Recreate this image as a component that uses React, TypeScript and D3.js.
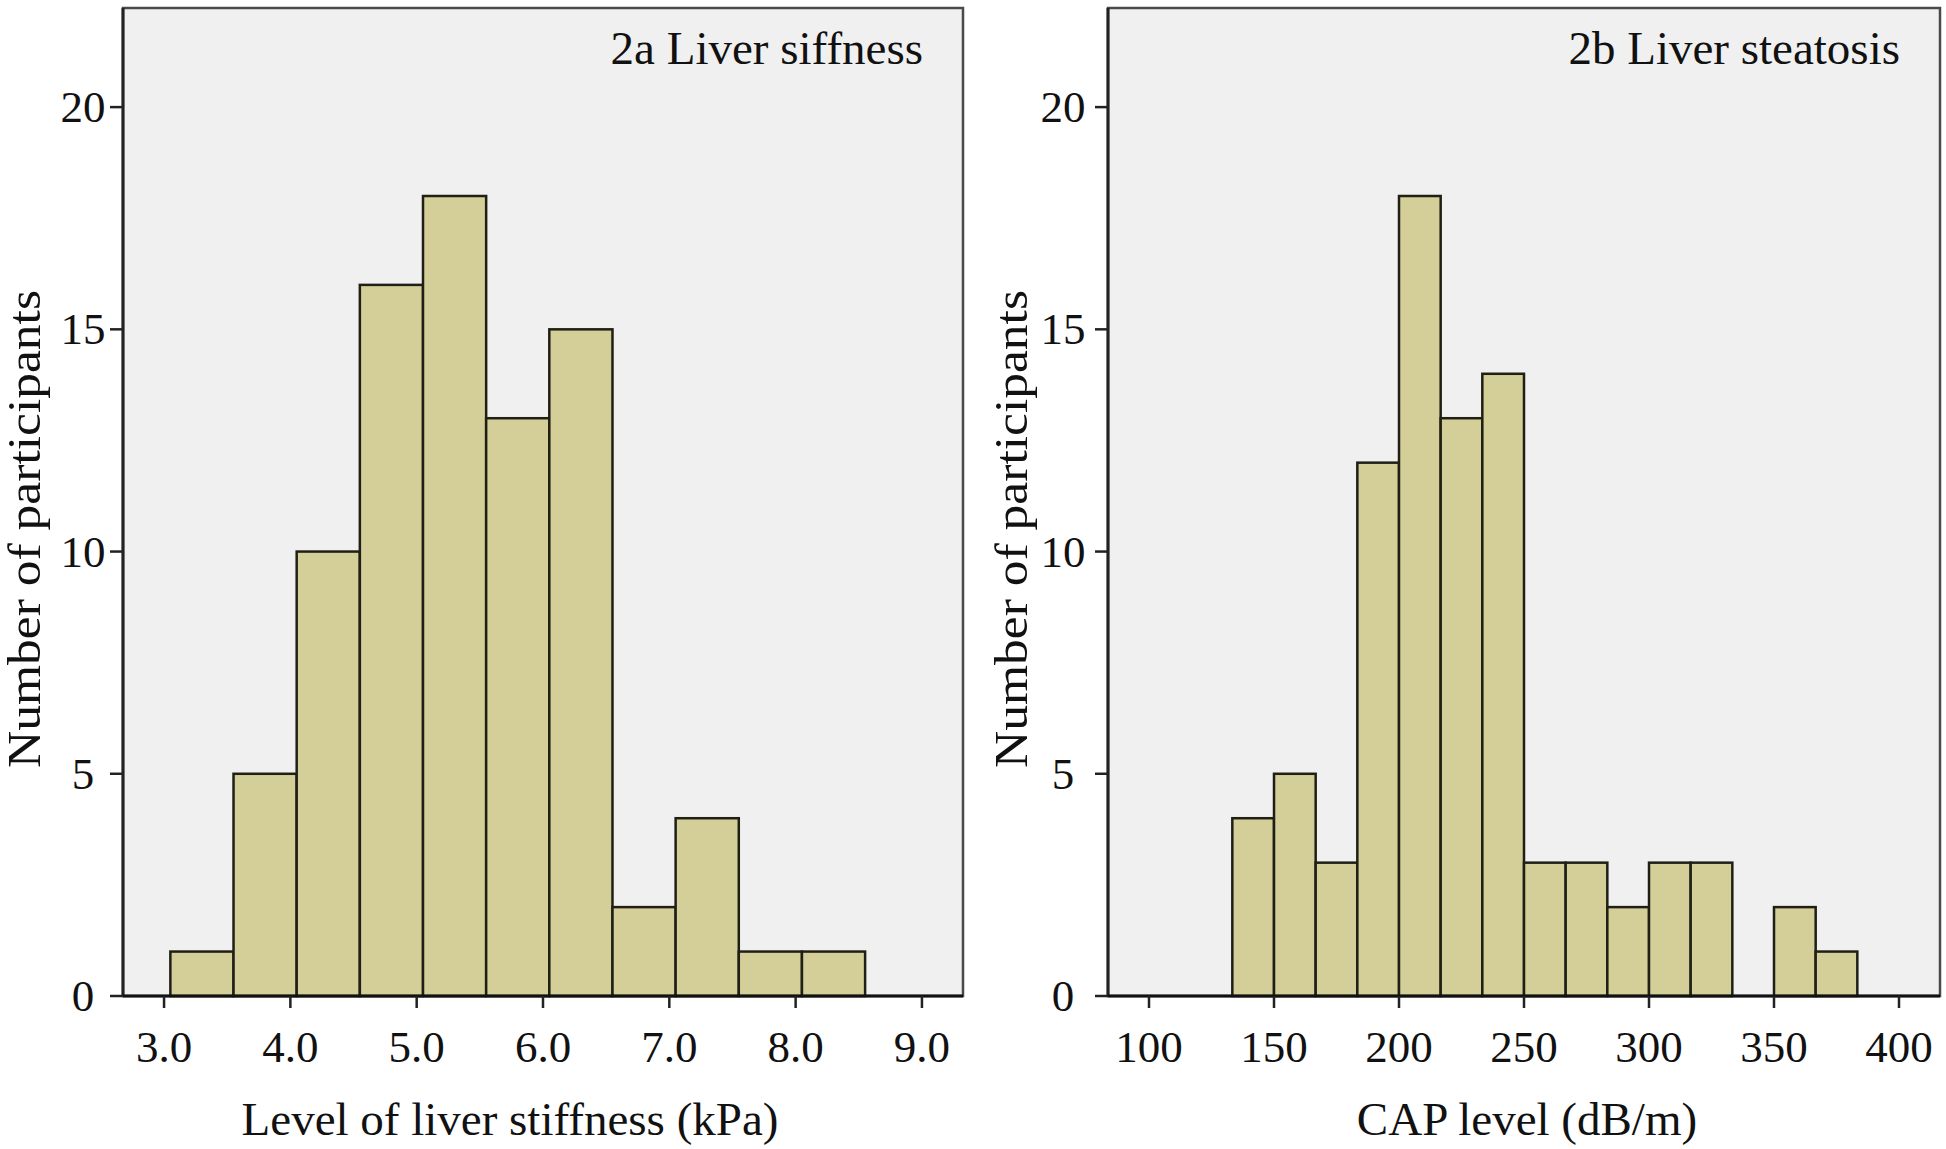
import React from "react";
import * as d3 from "d3";

// ---------- data ----------
const stiffnessBinEdges = [3.05, 3.55, 4.05, 4.55, 5.05, 5.55, 6.05, 6.55, 7.05, 7.55, 8.05, 8.55];
const stiffnessCounts = [1, 5, 10, 16, 18, 13, 15, 2, 4, 1, 1];
const stiffnessTicks = [3, 4, 5, 6, 7, 8, 9];

const capBinEdges = [133.33, 150, 166.67, 183.33, 200, 216.67, 233.33, 250, 266.67, 283.33, 300, 316.67, 333.33, 350, 366.67, 383.33];
const capCounts = [4, 5, 3, 12, 18, 13, 14, 3, 3, 2, 3, 3, 0, 2, 1];
const capTicks = [100, 150, 200, 250, 300, 350, 400];

const countTicks = [0, 5, 10, 15, 20];

const panelTitles = ["2a Liver siffness", "2b Liver steatosis"];
const xTitles = ["Level of liver stiffness (kPa)", "CAP level (dB/m)"];
const yTitle = "Number of participants";

// ---------- style ----------
const W = 1946;
const H = 1149;
const TOP = 8;
const BOTTOM = 996;
const FONT = "'Liberation Serif', 'Times New Roman', serif";
const PLOT_BG = "#f0f0f0";
const BAR_FILL = "#d4cf98";
const BAR_STROKE = "#1f1f15";

type PanelProps = {
  x0: number;
  x1: number;
  domain: [number, number];
  edges: number[];
  counts: number[];
  ticks: number[];
  fmt: (v: number) => string;
  title: string;
  xTitle: string;
  xTitleX: number;
  yTitleX: number;
  yLabelOffset: number;
};

function Panel(p: PanelProps) {
  const x = d3.scaleLinear().domain(p.domain).range([p.x0, p.x1]);
  const y = d3.scaleLinear().domain([0, 22.23]).range([BOTTOM, TOP]);
  const bins = p.counts.map((c, i) => ({ lo: p.edges[i], hi: p.edges[i + 1], c }));
  return (
    <g>
      <rect x={p.x0} y={TOP} width={p.x1 - p.x0} height={BOTTOM - TOP} fill={PLOT_BG} stroke="#4a4a4a" strokeWidth={2.5} />
      {bins
        .filter((b) => b.c > 0)
        .map((b, i) => (
          <rect
            key={i}
            x={x(b.lo)}
            y={y(b.c)}
            width={x(b.hi) - x(b.lo)}
            height={y(0) - y(b.c)}
            fill={BAR_FILL}
            stroke={BAR_STROKE}
            strokeWidth={2.5}
          />
        ))}
      {/* axes */}
      <line x1={p.x0} x2={p.x0} y1={TOP} y2={BOTTOM} stroke="#222" strokeWidth={3} />
      <line x1={p.x0} x2={p.x1} y1={BOTTOM} y2={BOTTOM} stroke="#111" strokeWidth={3} />
      {countTicks.map((t) => (
        <g key={"y" + t}>
          <line x1={p.x0 - 13} x2={p.x0} y1={y(t)} y2={y(t)} stroke="#222" strokeWidth={2.5} />
          <text x={p.x0 - p.yLabelOffset} y={y(t) + 15} fontSize={45} fontFamily={FONT} textAnchor="middle" fill="#111">
            {t}
          </text>
        </g>
      ))}
      {p.ticks.map((t) => (
        <g key={"x" + t}>
          <line x1={x(t)} x2={x(t)} y1={BOTTOM} y2={BOTTOM + 12} stroke="#222" strokeWidth={2.5} />
          <text x={x(t)} y={1062} fontSize={45} fontFamily={FONT} textAnchor="middle" fill="#111">
            {p.fmt(t)}
          </text>
        </g>
      ))}
      <text x={p.x1 - 40} y={64} fontSize={47} fontFamily={FONT} textAnchor="end" fill="#111">
        {p.title}
      </text>
      <text x={p.xTitleX} y={1135} fontSize={47} fontFamily={FONT} textAnchor="middle" fill="#111">
        {p.xTitle}
      </text>
      <text
        transform={`translate(${p.yTitleX},${529}) rotate(-90)`}
        fontSize={46}
        fontFamily={FONT}
        textAnchor="middle"
        textLength={478}
        lengthAdjust="spacingAndGlyphs"
        fill="#111"
      >
        {yTitle}
      </text>
    </g>
  );
}

export default function App() {
  return (
    <svg
      width={W}
      height={H}
      viewBox={`0 0 ${W} ${H}`}
      style={{ position: "absolute", left: 0, top: 0, background: "#fff" }}
    >
      <rect x={0} y={0} width={W} height={H} fill="#fff" />
      <Panel
        x0={123}
        x1={963}
        domain={[2.675, 9.325]}
        edges={stiffnessBinEdges}
        counts={stiffnessCounts}
        ticks={stiffnessTicks}
        fmt={d3.format(".1f")}
        title={panelTitles[0]}
        xTitle={xTitles[0]}
        xTitleX={510}
        yTitleX={40}
        yLabelOffset={40}
      />
      <Panel
        x0={1108}
        x1={1940}
        domain={[83.6, 416.4]}
        edges={capBinEdges}
        counts={capCounts}
        ticks={capTicks}
        fmt={d3.format("d")}
        title={panelTitles[1]}
        xTitle={xTitles[1]}
        xTitleX={1527}
        yTitleX={1027}
        yLabelOffset={45}
      />
    </svg>
  );
}
